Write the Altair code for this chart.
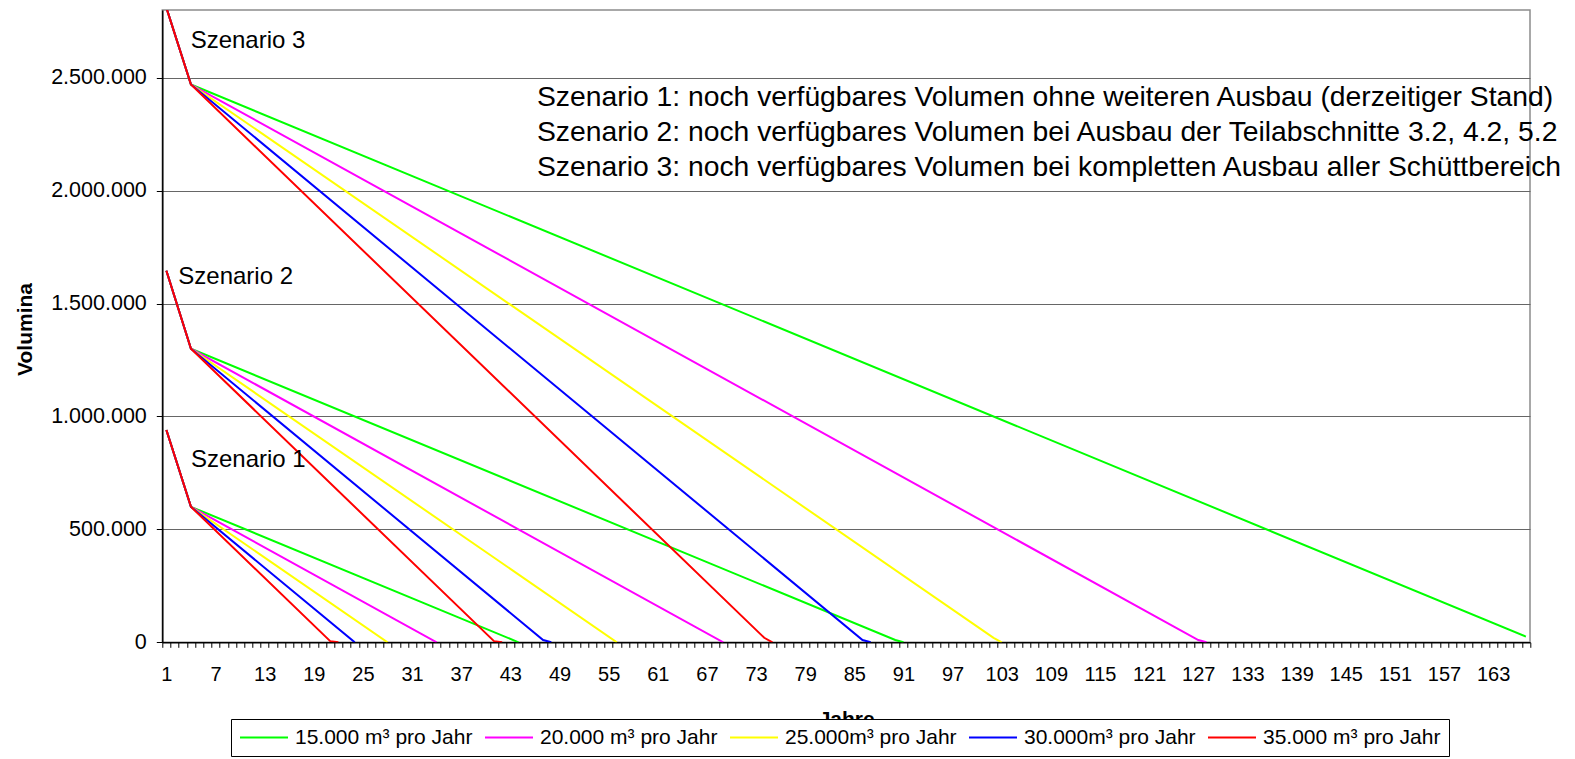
import json
import altair as alt
import pandas as pd

FONT = "Liberation Sans"

# ---------------- data ----------------
rate_labels = ["15.000 m³ pro Jahr", "20.000 m³ pro Jahr", "25.000m³ pro Jahr",
               "30.000m³ pro Jahr", "35.000 m³ pro Jahr"]
rate_colors = ["#00ff00", "#ff00ff", "#ffff00", "#0000ff", "#ff0000"]
scenario_names = ["Szenario 1", "Szenario 2", "Szenario 3"]

# vertices (year, remaining volume) per series, in the order of rate_labels
s1_years = [[1, 4, 44], [1, 4, 34], [1, 4, 28], [1, 4, 24], [1, 4, 21, 22]]
s1_values = [[940000, 600000, 0], [940000, 600000, 0], [940000, 600000, 0],
             [940000, 600000, 0], [940000, 600000, 5000, 0]]
s2_years = [[1, 4, 90, 91], [1, 4, 69], [1, 4, 56], [1, 4, 47, 48], [1, 4, 41, 42]]
s2_values = [[1645000, 1300000, 10000, 0], [1645000, 1300000, 0], [1645000, 1300000, 0],
             [1645000, 1300000, 10000, 0], [1645000, 1300000, 5000, 0]]
s3_years = [[1, 4, 167], [1, 4, 127, 128], [1, 4, 102, 103], [1, 4, 86, 87], [1, 4, 74, 75]]
s3_values = [[2810000, 2470000, 25000], [2810000, 2470000, 10000, 0],
             [2810000, 2470000, 20000, 0], [2810000, 2470000, 10000, 0],
             [2810000, 2470000, 20000, 0]]

x_tick_labels = [1, 7, 13, 19, 25, 31, 37, 43, 49, 55, 61, 67, 73, 79, 85, 91, 97, 103,
                 109, 115, 121, 127, 133, 139, 145, 151, 157, 163]
y_tick_values = [0, 500000, 1000000, 1500000, 2000000, 2500000]

scenario_label_text = ["Szenario 3", "Szenario 2", "Szenario 1"]
scenario_label_year = [3.96, 2.45, 4.0]
scenario_label_value = [2633000, 1585000, 777600]

info_text = [
    "Szenario 1: noch verfügbares Volumen ohne weiteren Ausbau (derzeitiger Stand)",
    "Szenario 2: noch verfügbares Volumen bei Ausbau der Teilabschnitte 3.2, 4.2, 5.2 und 6.2",
    "Szenario 3: noch verfügbares Volumen bei kompletten Ausbau aller Schüttbereiche",
]
info_year = [46.25, 46.25, 46.25]
info_value = [2374900, 2219000, 2063100]

# ---------------- build tables ----------------
rows = []
for ri, rate in enumerate(rate_labels):
    for scen, ys, vs in zip(scenario_names, [s1_years, s2_years, s3_years],
                            [s1_values, s2_values, s3_values]):
        for yr, val in zip(ys[ri], vs[ri]):
            rows.append({"rate": rate, "scenario": scen, "year": yr, "value": val})
lines_df = pd.DataFrame(rows)
ann_df = pd.DataFrame({"text": scenario_label_text, "year": scenario_label_year,
                       "value": scenario_label_value})
info_df = pd.DataFrame({"text": info_text, "year": info_year, "value": info_value})

# ---------------- layout ----------------
W, H = 1367.7, 632.3
n_years = 167
x_edges = [i + 0.5 for i in range(n_years + 1)]

x_scale = alt.Scale(domain=[0.5, n_years + 0.5], nice=False, zero=False)
y_scale = alt.Scale(domain=[0, 2800000], nice=False)

x_axis = alt.Axis(
    values=x_edges,
    labelExpr=f"indexof({json.dumps(x_tick_labels)}, datum.value + 0.5) >= 0 ? '' + (datum.value + 0.5) : ''",
    labelOffset=W / n_years / 2, labelFlush=False, labelOverlap=False,
    tickSize=5, tickColor="#000", tickWidth=1,
    domainColor="#000", domainWidth=1.5,
    labelFontSize=20, labelPadding=17, labelFont=FONT, labelColor="#000",
    grid=False,
    title="Jahre", titleFontSize=21, titleFontWeight="bold", titleFont=FONT,
    titleX=W / 2, titleY=83.5, titleAlign="center", titleBaseline="alphabetic",
)
y_axis = alt.Axis(
    values=y_tick_values,
    labelExpr="replace(format(datum.value, ','), /,/g, '.')",
    tickSize=6, tickColor="#000", tickWidth=1,
    domainColor="#000", domainWidth=1.5,
    labelFontSize=21.5, labelPadding=10, labelFont=FONT, labelColor="#000",
    grid=True, gridColor="#666666", gridWidth=1.2,
    title="Volumina", titleFontSize=21, titleFontWeight="bold", titleFont=FONT,
    titleX=25 - 162.3, titleY=319, titleAngle=270, titleAlign="center",
    titleBaseline="middle",
)

legend = alt.Legend(
    orient="none", legendX=68.7, legendY=709,
    direction="horizontal", columns=5, title=None,
    symbolType="stroke", symbolSize=2304, symbolStrokeWidth=2, clipHeight=21,
    labelFontSize=21, labelFont=FONT, labelColor="#000", labelOffset=6, labelLimit=400,
    labelBaseline="middle",
    columnPadding=11, padding=8, fillColor="white", strokeColor="black",
)

X = alt.X("year:Q", scale=x_scale, axis=x_axis)
Y = alt.Y("value:Q", scale=y_scale, axis=y_axis)

lines = alt.Chart(lines_df).mark_line(strokeWidth=2, clip=True).encode(
    x=X, y=Y,
    color=alt.Color("rate:N", scale=alt.Scale(domain=rate_labels, range=rate_colors),
                    sort=rate_labels, legend=legend),
    detail="scenario:N",
)

ann = alt.Chart(ann_df).mark_text(align="left", baseline="alphabetic", fontSize=24,
                                  font=FONT, color="black").encode(x=X, y=Y, text="text:N")
info = alt.Chart(info_df).mark_text(align="left", baseline="alphabetic", fontSize=28.3,
                                    font=FONT, color="black").encode(x=X, y=Y, text="text:N")

chart = alt.layer(lines, ann, info).properties(
    width=W, height=H,
    padding={"left": 154.3, "top": 2, "right": 30, "bottom": 116.7},
    autosize=alt.AutoSizeParams(type="none"),
    background="white",
).configure(font=FONT).configure_view(stroke="#8c8c8c", strokeWidth=1.5)

chart.save("out.html", embed_options={"renderer": "svg", "actions": False})
